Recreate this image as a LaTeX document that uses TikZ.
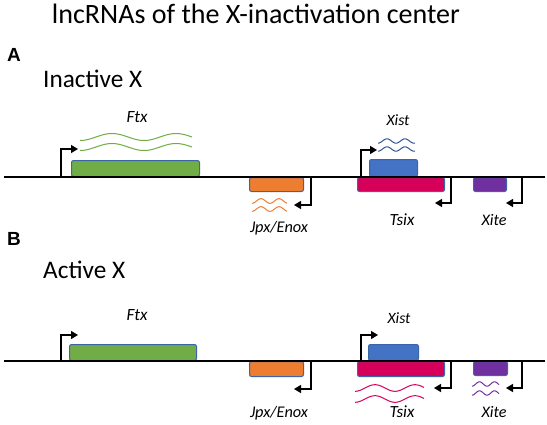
\documentclass[tikz,border=0pt]{standalone}
\usepackage{fontspec}
\usepackage{graphicx}
\setmainfont{Carlito}
\newfontfamily\panelfont{Liberation Sans}
\usetikzlibrary{arrows.meta}
\definecolor{cgreen}{HTML}{70AD47}
\definecolor{corange}{HTML}{ED7D31}
\definecolor{cblue}{HTML}{4472C4}
\definecolor{cmag}{HTML}{D6005A}
\definecolor{cpurple}{HTML}{7030A0}
\definecolor{cborder}{HTML}{3C64A8}
\definecolor{cbluewave}{HTML}{2F5597}
\newcommand\rnawave[6]{\draw[wave,#6] plot[domain=#1:#2, samples=60, smooth] (\x,{#3+#4*cos((\x-#1)/#5*360)});}
\newcommand\wtext[2]{\resizebox{#1pt}{!}{#2}}
\tikzset{
  genebox/.style={draw=cborder, line width=1pt, rounded corners=2pt, inner sep=0pt},
  chrom/.style={line width=2.6pt, black},
  prom/.style={line width=1.2pt, black, -{Triangle[length=7pt,width=8pt]}},
  wave/.style={line width=1pt},
  genelabel/.style={font=\fontsize{16}{18}\selectfont\itshape, anchor=base, inner sep=0pt},
  panel/.style={font=\panelfont\bfseries\fontsize{19}{22}\selectfont, anchor=base west, inner sep=0pt},
  subtitle/.style={font=\fontsize{26}{30}\selectfont, anchor=base west, inner sep=0pt},
}
\begin{document}
\begin{tikzpicture}[x=1pt,y=-1pt]
\useasboundingbox (0,0) rectangle (547,424);
% title
\node[font=\fontsize{27}{30}\selectfont, anchor=base, inner sep=0pt] (title) at (256,23) {\wtext{408}{lncRNAs of the X-inactivation center}};
% ---------------- Panel A ----------------
\node[panel] (A) at (7,61) {A};
\node[subtitle] (inactX) at (43,87) {\wtext{99}{Inactive X}};
\node[genebox, fill=cgreen, minimum width=128pt, minimum height=16pt, anchor=south west] (ftxA) at (71,177) {};
\node[genebox, fill=corange, minimum width=54pt, minimum height=14pt, anchor=north west] (jpxA) at (249,177) {};
\node[genebox, fill=cmag, minimum width=87pt, minimum height=14pt, anchor=north west] (tsixA) at (357,177) {};
\node[genebox, fill=cblue, minimum width=48pt, minimum height=17pt, anchor=south west] (xistA) at (369,177) {};
\node[genebox, fill=cpurple, minimum width=33pt, minimum height=14pt, anchor=north west] (xiteA) at (473,177) {};
\coordinate (LA0) at (4,177);
\coordinate (LA1) at (545,177);
\draw[chrom] (LA0) -- (LA1);
% promoters A
\coordinate (pFtxA) at (61,177);  \coordinate (tFtxA) at (78,149);
\coordinate (pXistA) at (361,177); \coordinate (tXistA) at (377,150);
\coordinate (pJpxA) at (311,177); \coordinate (tJpxA) at (294,205);
\coordinate (pTsixA) at (451,177); \coordinate (tTsixA) at (435,203);
\coordinate (pXiteA) at (522,177); \coordinate (tXiteA) at (506,203);
\draw[prom] (pFtxA) |- (tFtxA);
\draw[prom] (pXistA) |- (tXistA);
\draw[prom] (pJpxA) |- (tJpxA);
\draw[prom] (pTsixA) |- (tTsixA);
\draw[prom] (pXiteA) |- (tXiteA);
% transcripts A
\rnawave{80}{192}{137}{3.5}{64}{cgreen}
\rnawave{80}{192}{147}{3.5}{64}{cgreen}
\rnawave{252}{287}{201}{2.3}{18}{corange}
\rnawave{252}{287}{209}{2.3}{18}{corange}
\rnawave{378}{415}{141}{2.2}{18}{cbluewave}
\rnawave{378}{415}{149}{2.2}{18}{cbluewave}
% labels A
\node[genelabel] (lFtxA) at (137,122) {\wtext{21}{Ftx}};
\node[genelabel] (lXistA) at (398,125) {\wtext{23}{Xist}};
\node[genelabel] (lJpxA) at (279,232) {\wtext{58}{Jpx/Enox}};
\node[genelabel] (lTsixA) at (402,225) {\wtext{25}{Tsix}};
\node[genelabel] (lXiteA) at (494,225) {\wtext{25}{Xite}};
% ---------------- Panel B ----------------
\node[panel] (B) at (7,245) {B};
\node[subtitle] (actX) at (43,278) {\wtext{82}{Active X}};
\node[genebox, fill=cgreen, minimum width=127pt, minimum height=16pt, anchor=south west] (ftxB) at (69,361) {};
\node[genebox, fill=corange, minimum width=54pt, minimum height=15pt, anchor=north west] (jpxB) at (249,361) {};
\node[genebox, fill=cmag, minimum width=87pt, minimum height=15pt, anchor=north west] (tsixB) at (357,361) {};
\node[genebox, fill=cblue, minimum width=50pt, minimum height=16pt, anchor=south west] (xistB) at (368,361) {};
\node[genebox, fill=cpurple, minimum width=34pt, minimum height=14pt, anchor=north west] (xiteB) at (473,361) {};
\coordinate (LB0) at (4,361);
\coordinate (LB1) at (545,361);
\draw[chrom] (LB0) -- (LB1);
% promoters B
\coordinate (pFtxB) at (61,361);  \coordinate (tFtxB) at (78,335);
\coordinate (pXistB) at (361,361); \coordinate (tXistB) at (378,335);
\coordinate (pJpxB) at (311,361); \coordinate (tJpxB) at (294,389);
\coordinate (pTsixB) at (451,361); \coordinate (tTsixB) at (434,388);
\coordinate (pXiteB) at (522,361); \coordinate (tXiteB) at (506,388);
\draw[prom] (pFtxB) |- (tFtxB);
\draw[prom] (pXistB) |- (tXistB);
\draw[prom] (pJpxB) |- (tJpxB);
\draw[prom] (pTsixB) |- (tTsixB);
\draw[prom] (pXiteB) |- (tXiteB);
% transcripts B
\rnawave{355}{424}{388}{3.3}{40}{cmag}
\rnawave{355}{424}{399}{3.3}{40}{cmag}
\rnawave{472}{499}{384}{2.2}{15}{cpurple}
\rnawave{472}{499}{393}{2.2}{15}{cpurple}
% labels B
\node[genelabel] (lFtxB) at (137,320) {\wtext{21}{Ftx}};
\node[genelabel] (lXistB) at (399,323) {\wtext{23}{Xist}};
\node[genelabel] (lJpxB) at (279,417) {\wtext{58}{Jpx/Enox}};
\node[genelabel] (lTsixB) at (402,417) {\wtext{25}{Tsix}};
\node[genelabel] (lXiteB) at (494,417) {\wtext{25}{Xite}};
\end{tikzpicture}
\end{document}
